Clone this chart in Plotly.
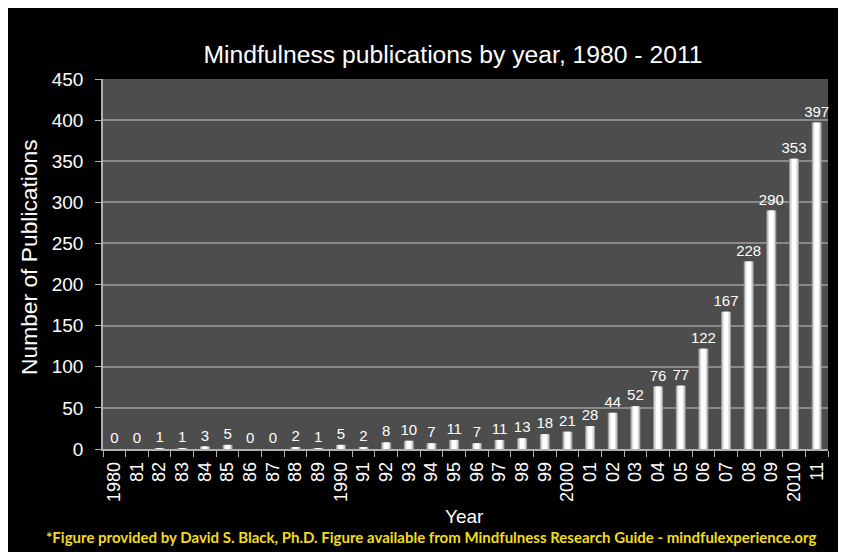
import plotly.graph_objects as go

years = ["1980", "81", "82", "83", "84", "85", "86", "87", "88", "89",
         "1990", "91", "92", "93", "94", "95", "96", "97", "98", "99",
         "2000", "01", "02", "03", "04", "05", "06", "07", "08", "09",
         "2010", "11"]
publications = [0, 0, 1, 1, 3, 5, 0, 0, 2, 1,
                5, 2, 8, 10, 7, 11, 7, 11, 13, 18,
                21, 28, 44, 52, 76, 77, 122, 167, 228, 290,
                353, 397]
y_ticks = [0, 50, 100, 150, 200, 250, 300, 350, 400, 450]

# figure sits at an 8px page offset (default body margin); coordinates below are figure pixels
W, H = 846, 552
L, T = 95, 71
pw, ph = 725, 370
R = W - L - pw
B = H - T - ph

FONT = "Liberation Sans, Arial, sans-serif"

fig = go.Figure()
fig.add_trace(go.Bar(x=years, y=publications, width=0.44,
                     marker=dict(color="#9a9a9a", line=dict(width=0)),
                     text=[str(v) for v in publications], textposition="outside",
                     constraintext="none",
                     textfont=dict(color="white", size=15, family=FONT),
                     cliponaxis=False, hoverinfo="skip"))
fig.add_trace(go.Bar(x=years, y=publications, width=0.34,
                     marker=dict(color="#dcdcdc", line=dict(width=0)),
                     hoverinfo="skip"))
fig.add_trace(go.Bar(x=years, y=publications, width=0.2,
                     marker=dict(color="#ffffff", line=dict(width=0)),
                     hoverinfo="skip"))


def px_x(x):
    return (x - L) / pw


def px_y(y):
    return (T + ph - y) / ph


fig.update_layout(
    width=W, height=H,
    margin=dict(l=L, r=R, t=T, b=B),
    paper_bgcolor="black",
    plot_bgcolor="#4d4d4d",
    barmode="overlay",
    showlegend=False,
    font=dict(family=FONT, color="white"),
    title=dict(text="Mindfulness publications by year, 1980 - 2011",
               x=445 / W, xref="container", xanchor="center",
               y=1 - 46 / H, yref="container", yanchor="middle",
               font=dict(size=24.7, color="white", family=FONT)),
    xaxis=dict(type="category", tickangle=-90, tickson="boundaries",
               ticks="outside", ticklen=6, tickcolor="#b0b0b0",
               showline=True, linecolor="#b0b0b0", linewidth=1.5,
               showgrid=False, ticklabelstandoff=4,
               tickfont=dict(size=18, color="white", family=FONT)),
    yaxis=dict(range=[0, 450], tickvals=y_ticks,
               ticks="outside", ticklen=6, tickcolor="#b0b0b0",
               showline=True, linecolor="#b0b0b0", linewidth=1.5,
               showgrid=True, gridcolor="#8a8a8a", gridwidth=1.5,
               zeroline=False, ticklabelstandoff=8,
               tickfont=dict(size=19, color="white", family=FONT)),
    annotations=[
        dict(text="Number of Publications", textangle=-90,
             x=px_x(21), y=px_y(249), xref="paper", yref="paper",
             xanchor="center", yanchor="middle", showarrow=False,
             font=dict(size=22.8, color="white", family=FONT)),
        dict(text="Year", x=px_x(456), y=px_y(508), xref="paper", yref="paper",
             xanchor="center", yanchor="middle", showarrow=False,
             font=dict(size=19, color="white", family=FONT)),
        dict(text="<b>*Figure provided by David S. Black, Ph.D. Figure available from Mindfulness Research Guide - mindfulexperience.org</b>",
             x=px_x(423), y=px_y(529), xref="paper", yref="paper",
             xanchor="center", yanchor="middle", showarrow=False,
             font=dict(size=15, color="#f2dc1c", family="Lato, Open Sans, sans-serif")),
    ],
)

fig.write_html("out.html")
